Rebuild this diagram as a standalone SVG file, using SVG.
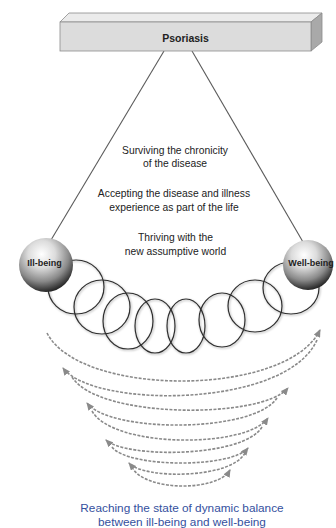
<svg xmlns="http://www.w3.org/2000/svg" width="336" height="528" viewBox="0 0 336 528">
<style>
  .lbl{font-family:"Liberation Sans",Arial,sans-serif;fill:#222;text-anchor:middle}
  .stage{font-size:10.3px}
  .ball-lbl{font-size:9px;font-weight:bold}
  .cap{font-size:11.8px;fill:#34509e}
  .rope{fill:none;stroke:#2e2e2e;stroke-width:1.2;filter:url(#shadow)}
  .swing{fill:none;stroke:#8a8a8a;stroke-width:1.6;stroke-dasharray:3 1.4}
  .arrowed{marker-end:url(#ah)}
  .tie{stroke:#5a5a5a;stroke-width:1.1;fill:none}
</style>
<defs>
  <radialGradient id="ballg" cx="0.42" cy="0.3" r="0.72">
    <stop offset="0" stop-color="#ffffff"/>
    <stop offset="0.35" stop-color="#dcdcdc"/>
    <stop offset="0.7" stop-color="#8a8a8a"/>
    <stop offset="1" stop-color="#1e1e1e"/>
  </radialGradient>
  <filter id="shadow" x="-20%" y="-20%" width="140%" height="140%">
    <feDropShadow dx="0.8" dy="1" stdDeviation="0.8" flood-color="#000" flood-opacity="0.35"/>
  </filter>
  <marker id="ah" markerUnits="userSpaceOnUse" markerWidth="8" markerHeight="7" refX="7" refY="3.5" orient="auto">
    <path d="M0,0 L8,3.5 L0,7 z" fill="#8a8a8a"/>
  </marker>
</defs>

<g id="connectors">
  <line class="tie" x1="164" y1="51" x2="51" y2="240"/>
  <line class="tie" x1="192" y1="51" x2="303" y2="242"/>
</g>

<g id="psoriasis">
  <polygon points="60,22 69,13 322,13 311,22" fill="#ebebeb" stroke="#8c8c8c" stroke-width="0.8"/>
  <polygon points="311,22 322,13 322,42 311,51" fill="#a9a9a9" stroke="#8c8c8c" stroke-width="0.8"/>
  <rect x="60" y="22" width="251" height="29" fill="#dcdcdc" stroke="#8c8c8c" stroke-width="0.8"/>
  <text class="lbl" x="185.5" y="42" font-size="10.5" font-weight="bold">Psoriasis</text>
</g>

<g id="stages">
  <text class="lbl stage" x="175" y="153.5">Surviving the chronicity</text>
  <text class="lbl stage" x="175" y="166.8">of the disease</text>
  <text class="lbl stage" x="174" y="197">Accepting the disease and illness</text>
  <text class="lbl stage" x="174" y="211">experience as part of the life</text>
  <text class="lbl stage" x="175.5" y="240.8">Thriving with the</text>
  <text class="lbl stage" x="175.5" y="254.5">new assumptive world</text>
</g>

<g id="rope">
  <ellipse class="rope" cx="76" cy="287" rx="28" ry="27"/>
  <ellipse class="rope" cx="102" cy="307" rx="28" ry="27"/>
  <ellipse class="rope" cx="128" cy="321" rx="25" ry="28"/>
  <ellipse class="rope" cx="155" cy="326" rx="20" ry="27"/>
  <ellipse class="rope" cx="186" cy="326" rx="19" ry="27"/>
  <ellipse class="rope" cx="222" cy="320" rx="23" ry="27"/>
  <ellipse class="rope" cx="255" cy="306" rx="27" ry="26"/>
  <ellipse class="rope" cx="291" cy="288" rx="28" ry="26"/>
</g>

<g id="ill-being">
  <circle cx="46" cy="265" r="27" fill="url(#ballg)"/>
  <text class="lbl ball-lbl" x="44.5" y="266">Ill-being</text>
</g>

<g id="well-being">
  <circle cx="308" cy="265" r="25" fill="url(#ballg)"/>
  <text class="lbl ball-lbl" x="311" y="265.5">Well-being</text>
</g>

<g id="swings">
  <path class="swing arrowed" d="M47,333 C80,397.5 287,397.5 320,330"/>
  <path class="swing arrowed" d="M317,340 C286.5,408.7 93.5,408.7 63,368"/>
  <path class="swing arrowed" d="M72,377 C98,419.2 262,419.2 288,388"/>
  <path class="swing arrowed" d="M277,398 C254,433.2 110,433.2 87,403"/>
  <path class="swing arrowed" d="M92,411 C113,448.5 247,448.5 268,418"/>
  <path class="swing arrowed" d="M262,427 C243,458.2 125,458.2 106,440"/>
  <path class="swing arrowed" d="M112,447 C128,468.2 232,468.2 248,448"/>
  <path class="swing arrowed" d="M245,453 C231,479.3 143,479.3 129,463"/>
  <path class="swing arrowed" d="M132,467 C144,491.8 218,491.8 230,470"/>
</g>

<g id="caption">
  <text class="lbl cap" x="182" y="512">Reaching the state of dynamic balance</text>
  <text class="lbl cap" x="182" y="525.5">between ill-being and well-being</text>
</g>
</svg>
